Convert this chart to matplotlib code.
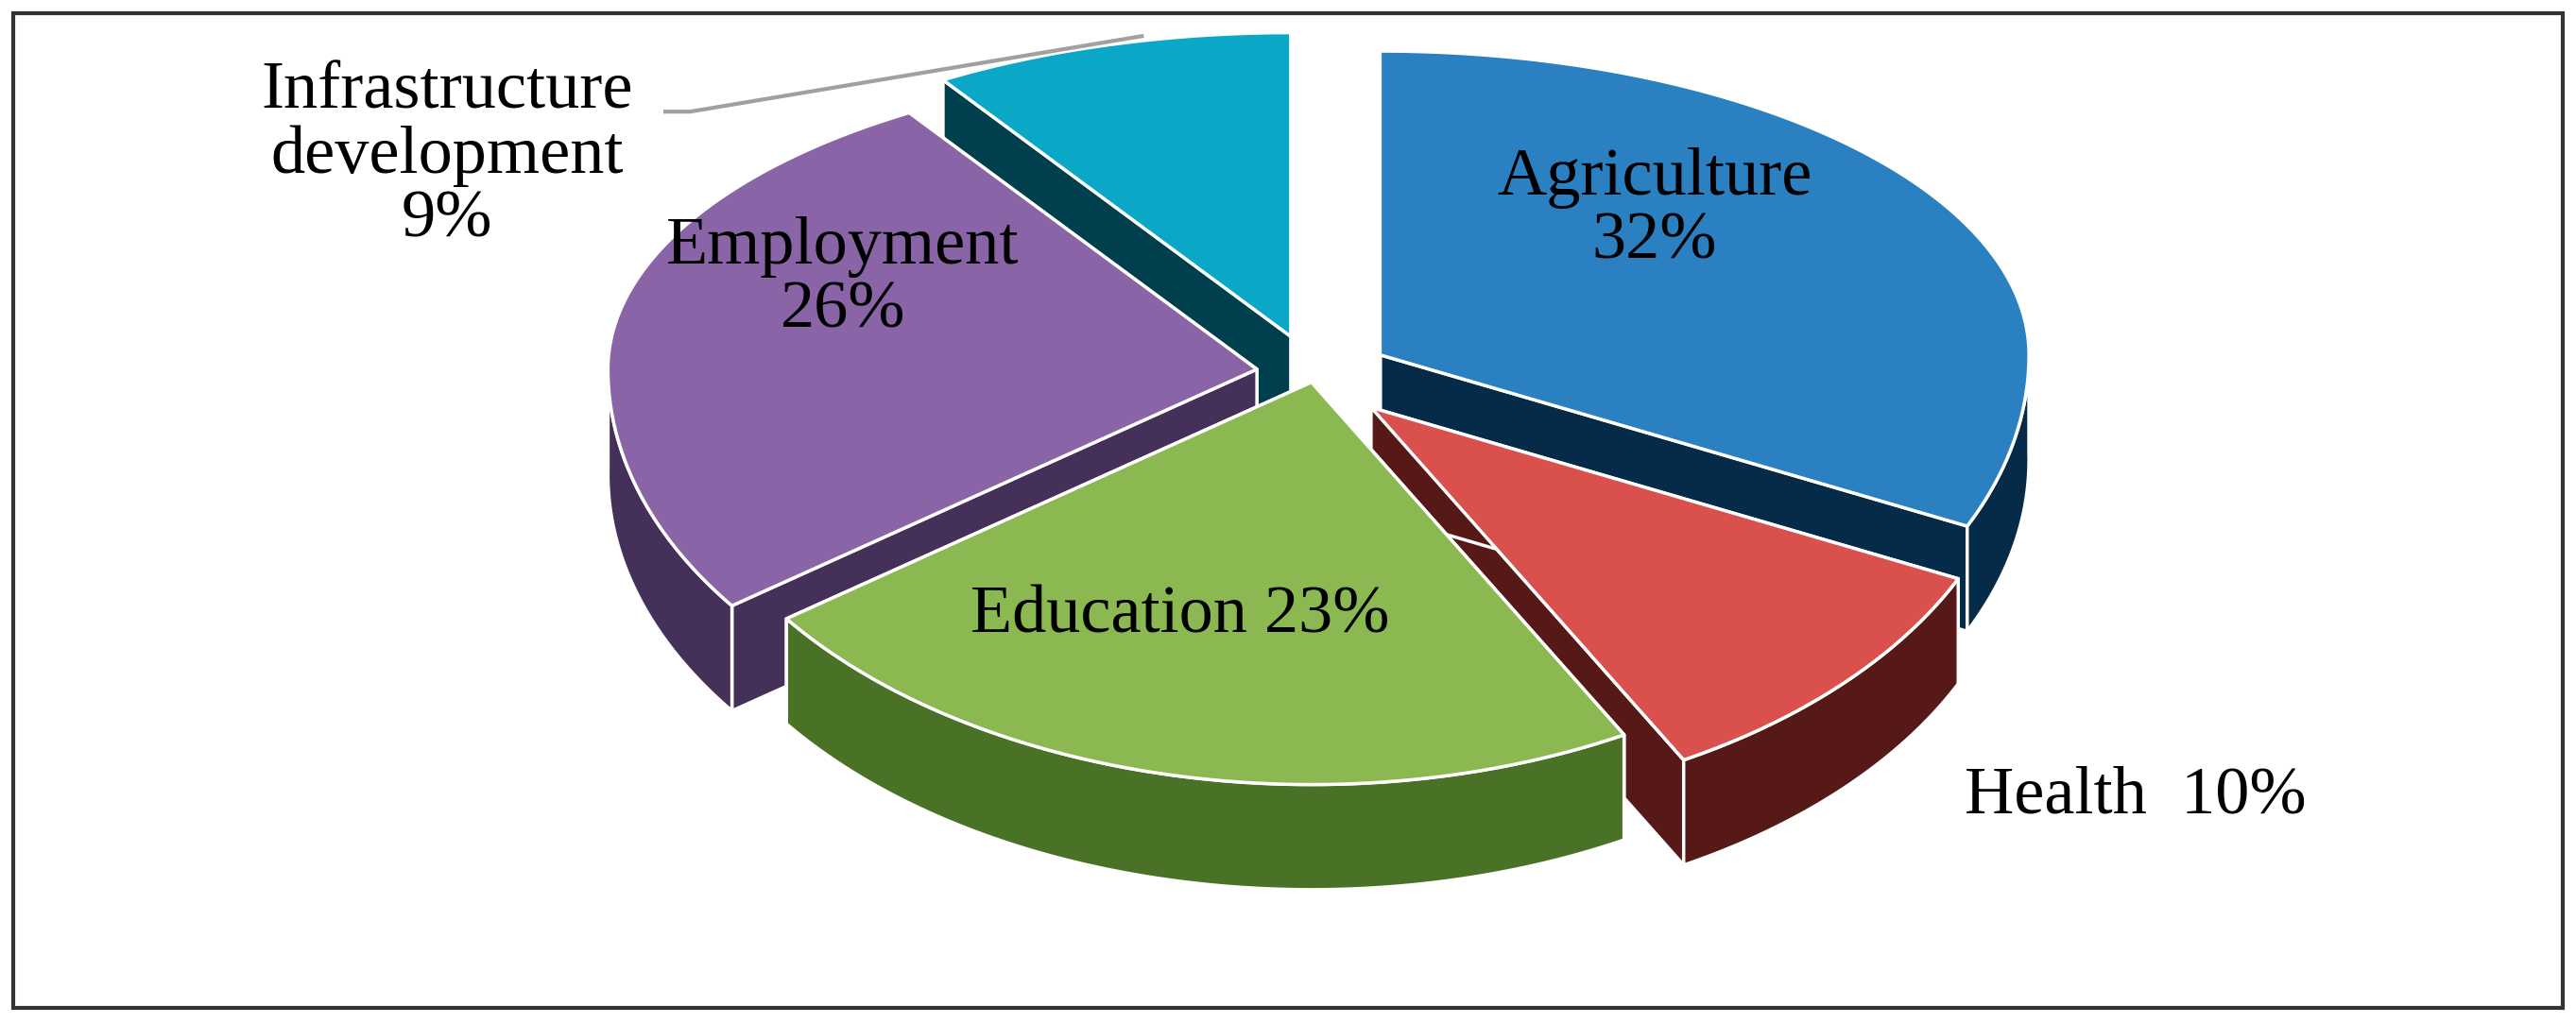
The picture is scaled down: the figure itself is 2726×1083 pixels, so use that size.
import numpy as np
import matplotlib
matplotlib.use("Agg")
import matplotlib.pyplot as plt
from matplotlib.patches import Polygon, Rectangle

labels = ["Agriculture", "Health", "Education", "Employment", "Infrastructure development"]
shares = [32, 10, 23, 26, 9]
top_colors = ["#2B80C2", "#D9504C", "#8CB852", "#8964A6", "#0AA8C6"]
side_colors = ["#062B48", "#571918", "#4A7226", "#45305A", "#00404E"]
explode = [0.12, 0.12, 0.02, 0.09, 0.13]

W, H = 1568, 623
fig = plt.figure(figsize=(27.26, 10.83), dpi=100)
ax = fig.add_axes([0, 0, 1, 1])
ax.set_xlim(0, W)
ax.set_ylim(H, 0)
ax.axis("off")
ax.add_patch(Rectangle((8, 8), W - 16, H - 17, fill=False, lw=3, ec="#333333"))

cx, cy, rx, depth = 800, 228, 395, 64
ry_back, ry_front = 185, 245


def pt(c, t, dz=0):
    s = np.sin(t)
    ry = ry_back if s > 0 else ry_front
    return (c[0] + rx * np.cos(t), c[1] - ry * s + dz)


# angles: start at 90 deg, clockwise
bounds = 90 - 360 * np.concatenate([[0], np.cumsum(shares)]) / sum(shares)
slices = []
for i in range(len(shares)):
    a0, a1 = np.radians(bounds[i]), np.radians(bounds[i + 1])
    mid = (a0 + a1) / 2
    ry = ry_back if np.sin(mid) > 0 else ry_front
    c = (cx + explode[i] * rx * np.cos(mid), cy - explode[i] * ry * np.sin(mid))
    slices.append((i, a1, a0, c, mid))

# back to front
for i, a_lo, a_hi, c, mid in sorted(slices, key=lambda s: -np.sin(s[4])):
    ec = dict(ec="white", lw=2.5, joinstyle="round")
    for a in (a_lo, a_hi):
        p = pt(c, a)
        poly = [c, p, (p[0], p[1] + depth), (c[0], c[1] + depth)]
        ax.add_patch(Polygon(poly, fc=side_colors[i], **ec))
    ts = np.linspace(a_lo, a_hi, 200)
    ts = ts[np.sin(ts) <= 0.02]
    if len(ts) > 1:
        upper = [pt(c, t) for t in ts]
        lower = [pt(c, t, depth) for t in ts[::-1]]
        ax.add_patch(Polygon(upper + lower, fc=side_colors[i], **ec))
    ts = np.linspace(a_lo, a_hi, 200)
    ax.add_patch(Polygon([c] + [pt(c, t) for t in ts], fc=top_colors[i], **ec))

font = dict(family="Liberation Serif", fontsize=52, color="black", ha="center", va="center",
            linespacing=1.05)
ax.text(1007, 128, f"{labels[0]}\n{shares[0]}%", **font)
ax.text(1300, 485, f"{labels[1]}  {shares[1]}%", **font)
ax.text(718, 375, f"{labels[2]} {shares[2]}%", **font)
ax.text(513, 170, f"{labels[3]}\n{shares[3]}%", **font)
ax.text(272, 95, "Infrastructure\ndevelopment\n" + f"{shares[4]}%", **font)
ax.plot([405, 420, 695], [68, 68, 22], color="#A0A0A0", lw=3)

fig.savefig("out.png")
